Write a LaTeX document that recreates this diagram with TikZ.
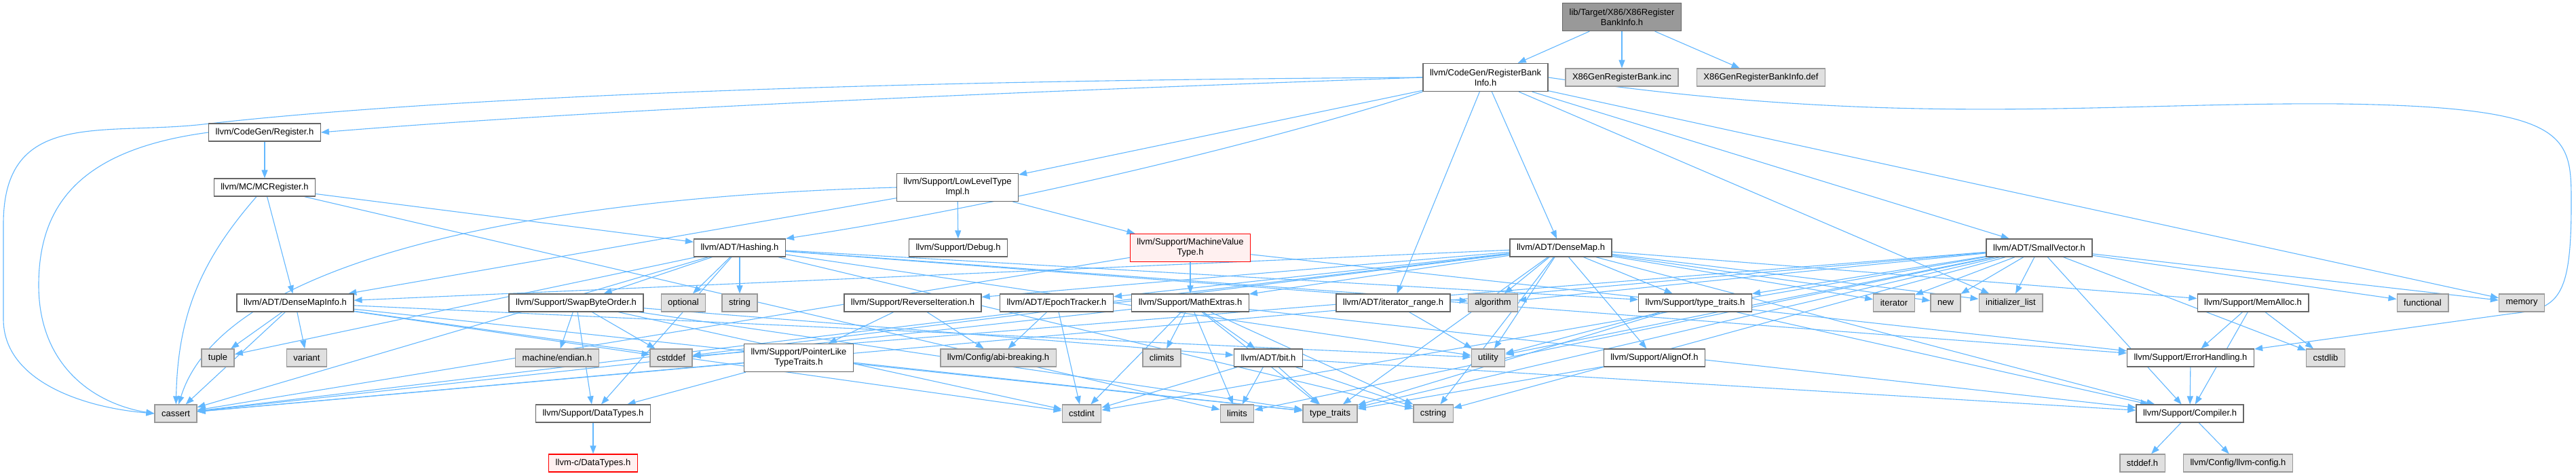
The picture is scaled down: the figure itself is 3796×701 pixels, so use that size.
\documentclass[tikz,border=0pt]{standalone}
\usepackage{fontspec}
\setmainfont{Liberation Sans}
\usetikzlibrary{arrows.meta}

\definecolor{edgeblue}{HTML}{63B8FF}
\definecolor{boxline}{HTML}{666666}
\definecolor{sysline}{HTML}{999999}
\definecolor{sysfill}{HTML}{E0E0E0}
\definecolor{rootfill}{HTML}{999999}
\definecolor{redline}{HTML}{FF0000}
\definecolor{redfill}{HTML}{FFF0F0}

\pgfdeclarelayer{bg}
\pgfdeclarelayer{edges}
\pgfsetlayers{bg,edges,main}

\tikzset{
  hdr/.style={draw=boxline, fill=white, line width=1.3pt, minimum height=26pt,
    inner xsep=10pt, inner ysep=3pt, font=\fontsize{13}{15}\selectfont},
  sys/.style={hdr, draw=sysline, fill=sysfill},
  twoline/.style={align=center, minimum height=41pt},
  truncated/.style={hdr, draw=redline, fill=redfill},
  rootfile/.style={hdr, fill=rootfill},
  dep/.style={draw=edgeblue, line width=1.1pt, -{Triangle[length=12pt,width=9pt]}}
}

\begin{document}
\begin{tikzpicture}[x=1pt,y=-1pt]

\begin{pgfonlayer}{bg}
\fill[white] (0,0) rectangle (3796,701);
\end{pgfonlayer}
\useasboundingbox (0,0) rectangle (3796,701);

% Root and its direct includes
\node[rootfile,twoline] (root) at (2390,25) {lib/Target/X86/X86Register\\BankInfo.h};
\node[hdr,twoline] (rbi) at (2189,114) {llvm/CodeGen/RegisterBank\\Info.h};
\node[sys] (inc) at (2390,114) {X86GenRegisterBank.inc};
\node[sys] (def) at (2595,114) {X86GenRegisterBankInfo.def};

% Second level
\node[hdr] (reg) at (390,195) {llvm/CodeGen/Register.h};
\node[hdr] (mcreg) at (390,276) {llvm/MC/MCRegister.h};
\node[hdr,twoline] (lltype) at (1411,276) {llvm/Support/LowLevelType\\Impl.h};

% Row at 365
\node[hdr] (hashing) at (1090,365) {llvm/ADT/Hashing.h};
\node[hdr] (debug) at (1412,365) {llvm/Support/Debug.h};
\node[truncated,twoline] (mvt) at (1754,365) {llvm/Support/MachineValue\\Type.h};
\node[hdr] (densemap) at (2300,365) {llvm/ADT/DenseMap.h};
\node[hdr] (smallvec) at (3005,365) {llvm/ADT/SmallVector.h};

% Row at 446
\node[hdr] (dmi) at (435,446) {llvm/ADT/DenseMapInfo.h};
\node[hdr] (swap) at (849,446) {llvm/Support/SwapByteOrder.h};
\node[sys] (optional) at (1007,446) {optional};
\node[sys] (string) at (1090,446) {string};
\node[hdr] (reviter) at (1345,446) {llvm/Support/ReverseIteration.h};
\node[hdr] (epoch) at (1557,446) {llvm/ADT/EpochTracker.h};
\node[hdr] (mathext) at (1754,446) {llvm/Support/MathExtras.h};
\node[hdr] (itrange) at (2053,446) {llvm/ADT/iterator\_range.h};
\node[sys] (algorithm) at (2200,446) {algorithm};
\node[hdr] (traitsh) at (2498,446) {llvm/Support/type\_traits.h};
\node[sys] (iterator) at (2791,446) {iterator};
\node[sys] (stdnew) at (2867,446) {new};
\node[sys] (initlist) at (2963,446) {initializer\_list};
\node[hdr] (memalloc) at (3320,446) {llvm/Support/MemAlloc.h};
\node[sys] (functional) at (3570,446) {functional};
\node[sys] (memory) at (3716,446) {memory};

% Row at 527
\node[sys] (tuple) at (321,527) {tuple};
\node[sys] (variant) at (452,527) {variant};
\node[sys] (endian) at (821,527) {machine/endian.h};
\node[sys] (cstddef) at (989,527) {cstddef};
\node[hdr,twoline] (pltt) at (1177,527) {llvm/Support/PointerLike\\TypeTraits.h};
\node[sys] (abi) at (1471,527) {llvm/Config/abi-breaking.h};
\node[sys] (climits) at (1712,527) {climits};
\node[hdr] (bit) at (1869,527) {llvm/ADT/bit.h};
\node[sys] (utility) at (2193,527) {utility};
\node[hdr] (alignof) at (2438,527) {llvm/Support/AlignOf.h};
\node[hdr] (errh) at (3228,527) {llvm/Support/ErrorHandling.h};
\node[sys] (cstdlib) at (3427,527) {cstdlib};

% Row at 609
\node[sys] (cassert) at (259,609) {cassert};
\node[hdr] (datatypes) at (874,609) {llvm/Support/DataTypes.h};
\node[sys] (cstdint) at (1594,609) {cstdint};
\node[sys] (limits) at (1823,609) {limits};
\node[sys] (traits) at (1960,609) {type\_traits};
\node[sys] (cstring) at (2112,609) {cstring};
\node[hdr] (compiler) at (3227,609) {llvm/Support/Compiler.h};

% Bottom row
\node[truncated] (cdatatypes) at (874,682) {llvm-c/DataTypes.h};
\node[sys] (stddef) at (3157,682) {stddef.h};
\node[sys] (llvmconfig) at (3298,682) {llvm/Config/llvm-config.h};

\begin{pgfonlayer}{edges}
% Root
\draw[dep] (root) -- (rbi);
\draw[dep] (root) -- (inc);
\draw[dep] (root) -- (def);

% RegisterBankInfo.h
\draw[dep] (rbi.west) .. controls (1500,135) and (900,160) .. (reg.east);
\draw[dep] (rbi.west) .. controls (1000,120) and (500,160) .. (300,183)
  .. controls (150,200) and (5,160) .. (5,330) -- (5,470)
  .. controls (5,560) and (120,600) .. (cassert.west);
\draw[dep] (rbi) -- (lltype);
\draw[dep] (rbi.south west) .. controls (1900,200) and (1500,300) .. (hashing.north east);
\draw[dep] (rbi) -- (itrange);
\draw[dep] (rbi) -- (densemap);
\draw[dep] (rbi) -- (smallvec);
\draw[dep] (rbi) -- (initlist);
\draw[dep] (rbi) -- (memory);
\draw[dep] (rbi.east) .. controls (2800,190) and (3100,150) .. (3450,153)
  .. controls (3789,158) and (3789,200) .. (3789,300)
  .. controls (3789,440) and (3770,455) .. (3700,462) -- (errh);

% Register.h
\draw[dep] (reg) -- (mcreg);
\draw[dep] (reg.west) .. controls (120,220) and (57,300) .. (57,420)
  .. controls (57,540) and (140,595) .. (cassert.west);

% MCRegister.h
\draw[dep] (mcreg) -- (dmi);
\draw[dep] (mcreg) -- (hashing);
\draw[dep] (mcreg) to[bend right=20] (cassert);
\draw[dep] (mcreg) -- (limits);

% LowLevelTypeImpl.h
\draw[dep] (lltype) -- (debug);
\draw[dep] (lltype) -- (mvt);
\draw[dep] (lltype) -- (dmi);
\draw[dep] (lltype.west) .. controls (800,290) and (330,380) .. (cassert);

% Hashing.h
\draw[dep] (hashing) -- (swap);
\draw[dep] (hashing) -- (optional);
\draw[dep] (hashing) -- (string);
\draw[dep] (hashing) -- (datatypes);
\draw[dep] (hashing) -- (cassert);
\draw[dep] (hashing) -- (tuple);
\draw[dep] (hashing) -- (algorithm);
\draw[dep] (hashing) -- (cstring);
\draw[dep] (hashing) -- (utility);
\draw[dep] (hashing) -- (traitsh);
\draw[dep] (hashing) -- (errh);

% MachineValueType.h
\draw[dep] (mvt) -- (mathext);
\draw[dep] (mvt) -- (errh);
\draw[dep] (mvt) -- (cassert);

% DenseMap.h
\draw[dep] (densemap) -- (dmi);
\draw[dep] (densemap) -- (epoch);
\draw[dep] (densemap) -- (reviter);
\draw[dep] (densemap) -- (mathext);
\draw[dep] (densemap) -- (algorithm);
\draw[dep] (densemap) -- (traitsh);
\draw[dep] (densemap) -- (alignof);
\draw[dep] (densemap) -- (memalloc);
\draw[dep] (densemap) -- (compiler);
\draw[dep] (densemap) -- (cassert);
\draw[dep] (densemap) -- (cstddef);
\draw[dep] (densemap) -- (cstring);
\draw[dep] (densemap) -- (initlist);
\draw[dep] (densemap) -- (iterator);
\draw[dep] (densemap) -- (stdnew);
\draw[dep] (densemap) -- (traits);
\draw[dep] (densemap) -- (utility);

% SmallVector.h
\draw[dep] (smallvec) -- (compiler);
\draw[dep] (smallvec) -- (traitsh);
\draw[dep] (smallvec) -- (algorithm);
\draw[dep] (smallvec) -- (cassert);
\draw[dep] (smallvec) -- (cstddef);
\draw[dep] (smallvec) -- (cstdint);
\draw[dep] (smallvec) -- (cstdlib);
\draw[dep] (smallvec) -- (cstring);
\draw[dep] (smallvec) -- (functional);
\draw[dep] (smallvec) -- (initlist);
\draw[dep] (smallvec) -- (iterator);
\draw[dep] (smallvec) -- (limits);
\draw[dep] (smallvec) -- (memory);
\draw[dep] (smallvec) -- (stdnew);
\draw[dep] (smallvec) -- (traits);
\draw[dep] (smallvec) -- (utility);

% DenseMapInfo.h
\draw[dep] (dmi) -- (cassert);
\draw[dep] (dmi) -- (cstddef);
\draw[dep] (dmi) -- (cstdint);
\draw[dep] (dmi) -- (tuple);
\draw[dep] (dmi) -- (variant);
\draw[dep] (dmi) -- (traits);
\draw[dep] (dmi) -- (utility);

% SwapByteOrder.h
\draw[dep] (swap) -- (endian);
\draw[dep] (swap) -- (cstddef);
\draw[dep] (swap) -- (datatypes);
\draw[dep] (swap) -- (bit);
\draw[dep] (swap) -- (cstdint);
\draw[dep] (swap) -- (traits);

% ReverseIteration.h and EpochTracker.h
\draw[dep] (reviter) -- (pltt);
\draw[dep] (reviter) -- (abi);
\draw[dep] (epoch) -- (abi);
\draw[dep] (epoch) -- (cstdint);

% MathExtras.h
\draw[dep] (mathext) -- (climits);
\draw[dep] (mathext) -- (bit);
\draw[dep] (mathext) -- (cstdint);
\draw[dep] (mathext) -- (limits);
\draw[dep] (mathext) -- (cassert);
\draw[dep] (mathext) -- (cstring);
\draw[dep] (mathext) -- (traits);
\draw[dep] (mathext) -- (compiler);

% iterator_range.h, type_traits.h, AlignOf.h
\draw[dep] (itrange) -- (utility);
\draw[dep] (traitsh) -- (utility);
\draw[dep] (traitsh) -- (traits);
\draw[dep] (traitsh) -- (compiler);
\draw[dep] (alignof) -- (traits);

% MemAlloc.h and ErrorHandling.h
\draw[dep] (memalloc) -- (errh);
\draw[dep] (memalloc) -- (cstdlib);
\draw[dep] (memalloc) -- (compiler);
\draw[dep] (errh) -- (compiler);

% PointerLikeTypeTraits.h
\draw[dep] (pltt) -- (cassert);
\draw[dep] (pltt) -- (datatypes);
\draw[dep] (pltt) -- (traits);

% bit.h
\draw[dep] (bit) -- (cstdint);
\draw[dep] (bit) -- (limits);
\draw[dep] (bit) -- (traits);
\draw[dep] (bit) -- (cstring);
\draw[dep] (bit) -- (compiler);

% Leaves
\draw[dep] (datatypes) -- (cdatatypes);
\draw[dep] (compiler) -- (stddef);
\draw[dep] (compiler) -- (llvmconfig);
\end{pgfonlayer}

\end{tikzpicture}
\end{document}
